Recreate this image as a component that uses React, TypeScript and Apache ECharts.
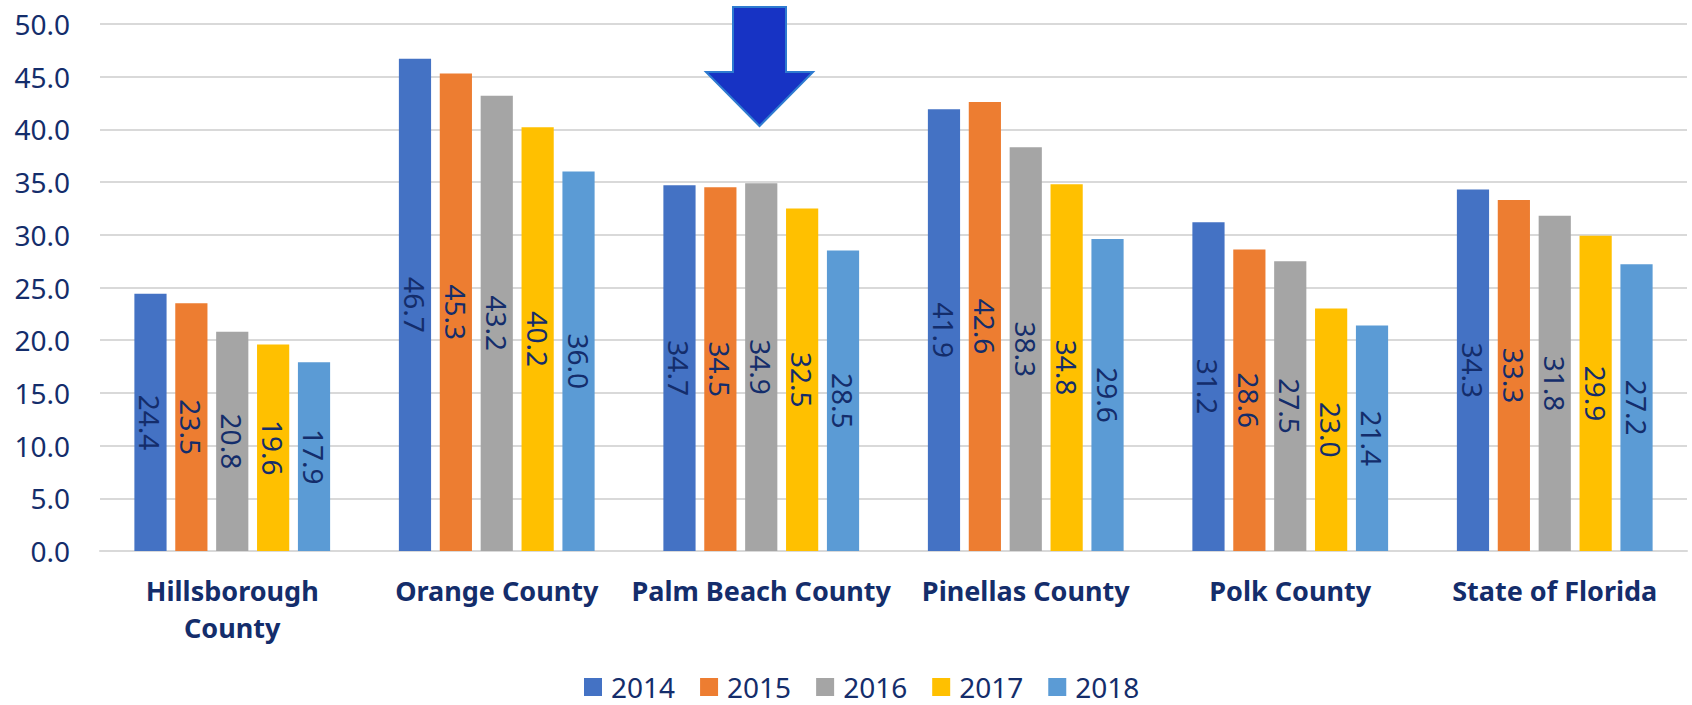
import React, { useEffect, useRef } from "react";
import * as echarts from "echarts";

const categories = [
  "Hillsborough\nCounty",
  "Orange County",
  "Palm Beach County",
  "Pinellas County",
  "Polk County",
  "State of Florida",
];
const years = ["2014", "2015", "2016", "2017", "2018"];
const values2014 = [24.4, 46.7, 34.7, 41.9, 31.2, 34.3];
const values2015 = [23.5, 45.3, 34.5, 42.6, 28.6, 33.3];
const values2016 = [20.8, 43.2, 34.9, 38.3, 27.5, 31.8];
const values2017 = [19.6, 40.2, 32.5, 34.8, 23.0, 29.9];
const values2018 = [17.9, 36.0, 28.5, 29.6, 21.4, 27.2];
const seriesValues = [values2014, values2015, values2016, values2017, values2018];
const colors = ["#4472C4", "#ED7D31", "#A5A5A5", "#FFC000", "#5B9BD5"];

const TEXT = "#142d6b";
const FONT = "Noto Sans";

export default function App() {
  const ref = useRef<HTMLDivElement>(null);
  useEffect(() => {
    document.body.style.margin = "0";
    const chart = echarts.init(ref.current!, null, { renderer: "svg" });
    chart.setOption({
      animation: false,
      textStyle: { fontFamily: FONT },
      grid: { left: 100, right: 5, top: 24, bottom: 154 },
      legend: {
        left: 584,
        top: 673,
        padding: 0,
        itemWidth: 18,
        itemHeight: 18,
        itemGap: 25,
        icon: "rect",
        textStyle: {
          color: TEXT,
          fontSize: 28,
          lineHeight: 24,
          fontFamily: FONT,
          padding: [0, 0, 0, 4],
        },
        data: years,
      },
      xAxis: {
        type: "category",
        data: categories,
        axisLine: { lineStyle: { color: "#D9D9D9", width: 2 } },
        axisTick: { show: false },
        axisLabel: {
          color: TEXT,
          fontSize: 27,
          fontWeight: "bold",
          fontFamily: FONT,
          margin: 21,
          lineHeight: 37,
          interval: 0,
        },
      },
      yAxis: {
        type: "value",
        min: 0,
        max: 50,
        interval: 5,
        axisLine: { show: false },
        axisTick: { show: false },
        splitLine: { lineStyle: { color: "#D9D9D9", width: 2 } },
        axisLabel: {
          color: TEXT,
          fontSize: 28,
          fontFamily: FONT,
          margin: 30,
          formatter: (v: number) => v.toFixed(1),
        },
      },
      series: years.map((y, i) => ({
        name: y,
        type: "bar",
        data: seriesValues[i],
        barGap: "27%",
        barCategoryGap: "26%",
        itemStyle: { color: colors[i] },
        label: {
          show: true,
          position: "inside",
          rotate: -90,
          color: TEXT,
          fontSize: 28,
          fontFamily: FONT,
          formatter: (p: any) => Number(p.value).toFixed(1),
        },
      })),
      graphic: [
        {
          type: "polygon",
          z: 100,
          shape: {
            points: [
              [733, 7],
              [786, 7],
              [786, 72],
              [813, 72],
              [759.5, 126],
              [706, 72],
              [733, 72],
            ],
          },
          style: { fill: "#1733C4", stroke: "#2E7BD0", lineWidth: 2 },
        },
      ],
    });
    return () => chart.dispose();
  }, []);
  return (
    <div
      ref={ref}
      style={{ position: "absolute", left: 0, top: 0, width: 1692, height: 705 }}
    />
  );
}
